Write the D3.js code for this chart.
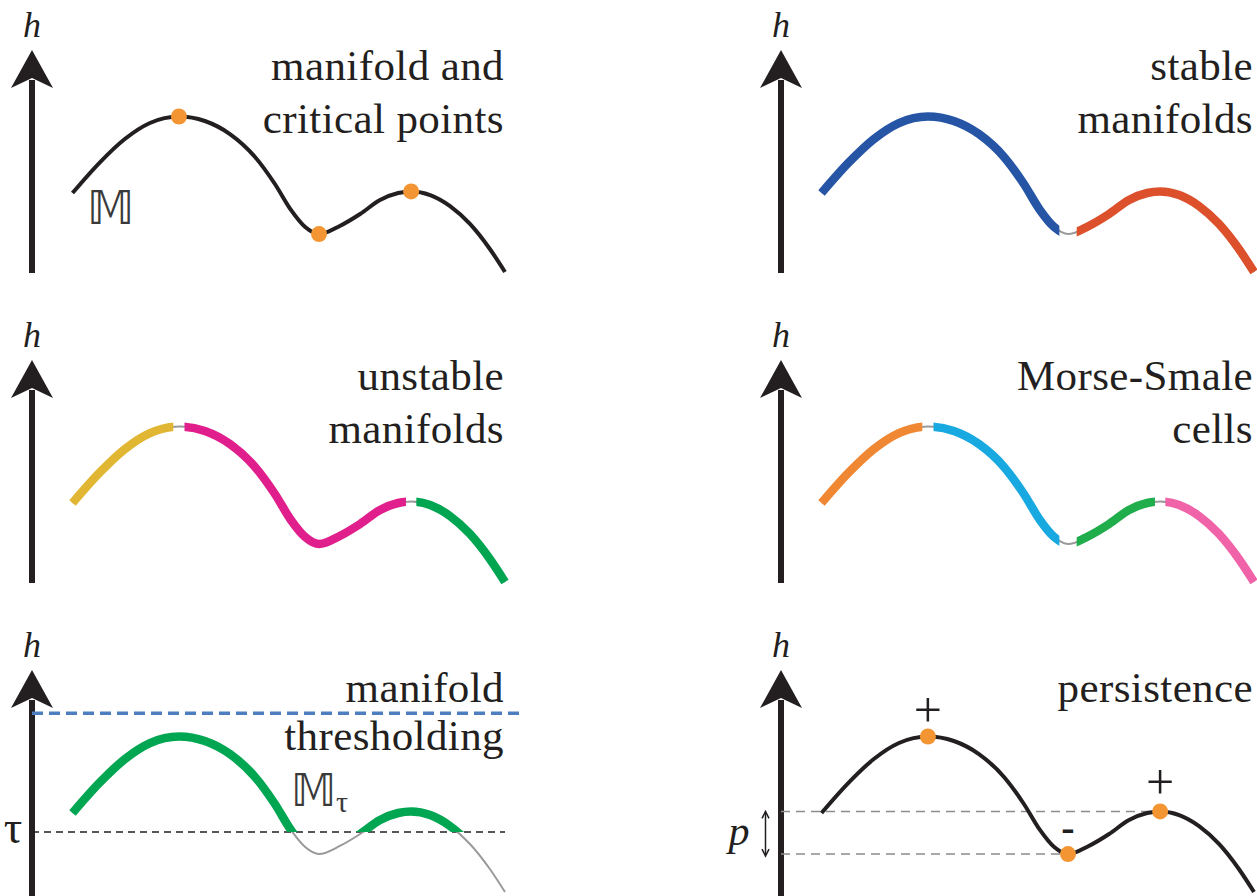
<!DOCTYPE html>
<html>
<head>
<meta charset="utf-8">
<script src="https://cdn.jsdelivr.net/npm/d3@7"></script>
<style>
  body { margin: 0; background: #fff; }
  text { font-family: "Liberation Serif", "Times New Roman", serif; fill: #231f20; }
</style>
</head>
<body>
<svg id="chart" width="1257" height="896"></svg>
<script>
// Sampled profile of the height function h along the 1-D manifold M
const profileX = [0, 6.4, 12.1, 17.9, 24.6, 30.6, 36.4, 42.2, 46.8, 50.5, 53.8, 57.0, 61.8, 66.5, 71.1, 75.3, 78.3, 82.7, 87.3, 91.9, 96.5, 100];
const profileH = [50.8, 70.7, 85.5, 95.8, 100, 97.1, 88.7, 74.0, 56.6, 39.9, 28.9, 24.4, 29.6, 37.3, 46.3, 50.8, 51.8, 49.5, 42.4, 30.9, 14.8, 0];

// Critical points: global maximum, minimum, local maximum
const criticalX = [24.6, 57.0, 78.3];
const criticalH = [100, 24.4, 51.8];
const criticalSign = ["+", "-", "+"];
const criticalGap = [1.3, 2.0, 1.2];

const panelTitles = [
  ["manifold and", "critical points"],
  ["stable", "manifolds"],
  ["unstable", "manifolds"],
  ["Morse-Smale", "cells"],
  ["manifold", "thresholding"],
  ["persistence"]
];

const stableColors = ["#2755a5", "#dc502c"];
const unstableColors = ["#e0b632", "#e01f8c", "#00a551"];
const morseSmaleColors = ["#f08833", "#18a9e0", "#20ad4b", "#f063a8"];
const thresholdColor = "#00a651";
const pointColor = "#f39533";

const tau = 38.6;        // threshold level
const upperLevel = 115;  // upper bound of the threshold range

const svg = d3.select("#chart");
const colOffset = [0, 749];
const rowOffset = [0, 310, 620];

const x = d3.scaleLinear().domain([0, 100]).range([72.5, 505]);
const y = d3.scaleLinear().domain([0, 100]).range([272, 116.5]);
const axisX = 32;

const points = d3.zip(profileX, profileH);
const line = d3.line()
  .x(d => x(d[0]))
  .y(d => y(d[1]))
  .curve(d3.curveMonotoneX);

let clipCount = 0;

function panel(i) {
  const col = i % 2, row = Math.floor(i / 2);
  const g = svg.append("g")
    .attr("transform", `translate(${colOffset[col]},${rowOffset[row]})`);
  const axisBottom = row === 2 ? 276 : 273;

  // vertical h axis with arrowhead
  g.append("line")
    .attr("x1", axisX).attr("x2", axisX)
    .attr("y1", axisBottom).attr("y2", 80)
    .attr("stroke", "#231f20").attr("stroke-width", 6);
  g.append("path")
    .attr("d", `M${axisX},50 L${axisX + 21},88 L${axisX},78 L${axisX - 21},88 Z`)
    .attr("fill", "#231f20");
  g.append("text")
    .attr("x", axisX).attr("y", 37)
    .attr("text-anchor", "middle")
    .attr("font-size", 36).attr("font-style", "italic")
    .text("h");

  // title
  const baselines = row === 2 ? [82, 130] : [80, 133];
  panelTitles[i].forEach((t, k) => {
    g.append("text")
      .attr("x", 504).attr("y", baselines[k])
      .attr("text-anchor", "end")
      .attr("font-size", 43)
      .attr("letter-spacing", 0.4)
      .text(t);
  });
  return g;
}

function clipRect(g, x0, x1, y0, y1) {
  const id = "clip" + (clipCount++);
  g.append("clipPath").attr("id", id)
    .append("rect")
    .attr("x", x0).attr("y", y0)
    .attr("width", x1 - x0).attr("height", y1 - y0);
  return `url(#${id})`;
}

function thinCurve(g) {
  g.append("path").attr("d", line(points))
    .attr("fill", "none").attr("stroke", "#9a9a9a").attr("stroke-width", 2);
}

function coloredSegments(g, breakIdx, colors) {
  thinCurve(g);
  const edges = [-10];
  breakIdx.forEach(k => { edges.push(criticalX[k] - criticalGap[k], criticalX[k] + criticalGap[k]); });
  edges.push(110);
  colors.forEach((c, s) => {
    const a = edges[2 * s], b = edges[2 * s + 1];
    g.append("path").attr("d", line(points))
      .attr("fill", "none").attr("stroke", c).attr("stroke-width", 8.5)
      .attr("clip-path", clipRect(g, x(a), x(b), 0, 300));
  });
}

function dots(g) {
  g.selectAll("circle.cp").data(criticalX).enter().append("circle")
    .attr("class", "cp")
    .attr("cx", d => x(d)).attr("cy", (d, k) => y(criticalH[k]))
    .attr("r", 8).attr("fill", pointColor);
}

// 1. manifold and critical points
{
  const g = panel(0);
  g.append("path").attr("d", line(points))
    .attr("fill", "none").attr("stroke", "#231f20").attr("stroke-width", 4);
  dots(g);
  g.append("text").attr("x", 87).attr("y", 224)
    .attr("font-size", 46).style("font-family", "DejaVu Sans").style("fill", "#3a3a3a")
    .text("\u{1D544}");
}

// 2. stable manifolds
coloredSegments(panel(1), [1], stableColors);

// 3. unstable manifolds
coloredSegments(panel(2), [0, 2], unstableColors);

// 4. Morse-Smale cells
coloredSegments(panel(3), [0, 1, 2], morseSmaleColors);

// 5. manifold thresholding
{
  const g = panel(4);
  g.append("line")
    .attr("x1", axisX).attr("x2", 520)
    .attr("y1", y(upperLevel)).attr("y2", y(upperLevel))
    .attr("stroke", "#4f7ec0").attr("stroke-width", 3.5)
    .attr("stroke-dasharray", "11,6");
  g.append("line")
    .attr("x1", axisX).attr("x2", 505)
    .attr("y1", y(tau)).attr("y2", y(tau))
    .attr("stroke", "#231f20").attr("stroke-width", 1.5)
    .attr("stroke-dasharray", "7,5");
  thinCurve(g);
  g.append("path").attr("d", line(points))
    .attr("fill", "none").attr("stroke", thresholdColor).attr("stroke-width", 8.5)
    .attr("clip-path", clipRect(g, 0, 560, 0, y(tau)));
  g.append("text").attr("x", 13).attr("y", y(tau) + 11)
    .attr("text-anchor", "middle").attr("font-size", 46)
    .text("\u03C4");
  const mt = g.append("text").attr("x", 291).attr("y", 186)
    .style("fill", "#3a3a3a");
  mt.append("tspan").attr("font-size", 44).style("font-family", "DejaVu Sans").text("\u{1D544}");
  mt.append("tspan").attr("font-size", 30).attr("dy", 6).text("\u03C4");
}

// 6. persistence
{
  const g = panel(5);
  [1, 2].forEach(k => {
    g.append("line")
      .attr("x1", axisX).attr("x2", x(criticalX[k]))
      .attr("y1", y(criticalH[k])).attr("y2", y(criticalH[k]))
      .attr("stroke", "#8c8c8c").attr("stroke-width", 1.5)
      .attr("stroke-dasharray", "9,6");
  });
  g.append("path").attr("d", line(points))
    .attr("fill", "none").attr("stroke", "#231f20").attr("stroke-width", 4);
  dots(g);

  // persistence span between the paired minimum and local maximum
  const ax = 16.5, yTop = y(criticalH[2]), yBot = y(criticalH[1]) + 2;
  g.append("line").attr("x1", ax).attr("x2", ax).attr("y1", yTop + 1).attr("y2", yBot - 1)
    .attr("stroke", "#231f20").attr("stroke-width", 1.5);
  g.append("path").attr("d", `M${ax - 3.5},${yTop + 7} L${ax},${yTop} L${ax + 3.5},${yTop + 7}`)
    .attr("fill", "none").attr("stroke", "#231f20").attr("stroke-width", 1.5);
  g.append("path").attr("d", `M${ax - 3.5},${yBot - 7} L${ax},${yBot} L${ax + 3.5},${yBot - 7}`)
    .attr("fill", "none").attr("stroke", "#231f20").attr("stroke-width", 1.5);
  g.append("text").attr("x", -10).attr("y", 225)
    .attr("text-anchor", "middle").attr("font-size", 42).attr("font-style", "italic")
    .text("p");

  const signOffset = [-10, -13, -12];
  criticalSign.forEach((s, k) => {
    g.append("text")
      .attr("x", x(criticalX[k])).attr("y", y(criticalH[k]) + signOffset[k])
      .attr("text-anchor", "middle")
      .attr("font-size", s === "-" ? 40 : 50)
      .attr("font-weight", s === "-" ? "bold" : "normal")
      .text(s);
  });
}
</script>
</body>
</html>
